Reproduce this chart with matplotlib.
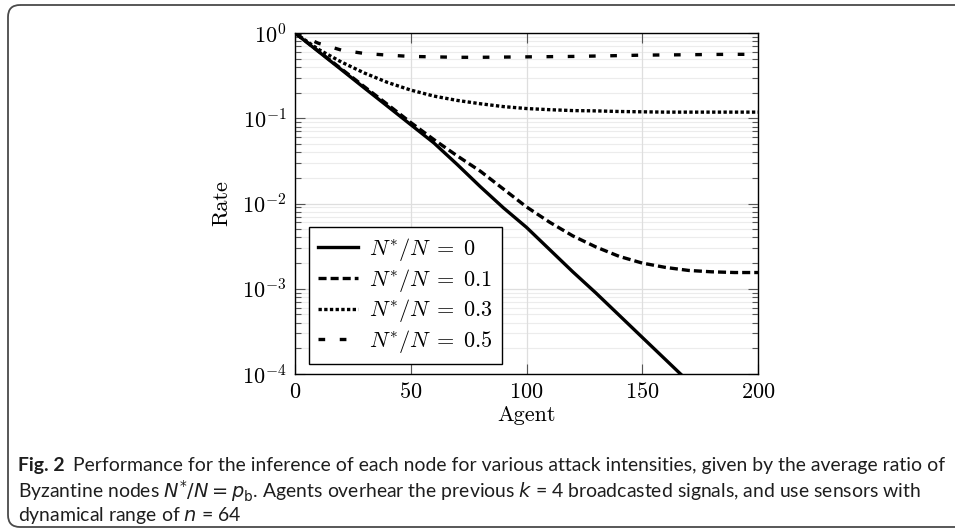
import numpy as np
import matplotlib
matplotlib.use('Agg')
import matplotlib.pyplot as plt
from matplotlib.patches import FancyBboxPatch

# curves (rate vs agent index)
agent_0 = [0, 10, 20, 30, 40, 50, 60, 70, 80, 90, 100, 110, 120, 130, 140, 150, 160, 170]
rate_0 = [1.0, 0.610, 0.372, 0.226, 0.138, 0.0841, 0.0513, 0.0288, 0.0158, 0.00891,
          0.00525, 0.00288, 0.00158, 0.000891, 0.00049, 0.000269, 0.000148, 0.0000813]

agent = [0, 10, 20, 30, 40, 50, 60, 70, 80, 90, 100, 110, 120, 130, 140, 150, 160, 170, 180, 190, 200]
rate_01 = [1.0, 0.617, 0.380, 0.234, 0.145, 0.0891, 0.0562, 0.0363, 0.0240, 0.0148,
           0.00912, 0.00603, 0.00417, 0.00309, 0.0024, 0.0020, 0.00178, 0.00164, 0.00158, 0.00155, 0.00155]
rate_03 = [1.0, 0.646, 0.457, 0.339, 0.263, 0.214, 0.182, 0.162, 0.148, 0.137,
           0.130, 0.126, 0.123, 0.122, 0.120, 0.119, 0.118, 0.118, 0.118, 0.118, 0.118]
rate_05 = [1.0, 0.76, 0.63, 0.575, 0.55, 0.531, 0.525, 0.519, 0.519, 0.522,
           0.525, 0.528, 0.531, 0.537, 0.543, 0.550, 0.553, 0.556, 0.560, 0.562, 0.562]

labels = [r'$N^{*}/N\;=\;0$', r'$N^{*}/N\;=\;0.1$', r'$N^{*}/N\;=\;0.3$', r'$N^{*}/N\;=\;0.5$']

caption_1 = 'Performance for the inference of each node for various attack intensities, given by the average ratio of'
caption_2 = r'Byzantine nodes $N^{*}/N = p_{\mathrm{b}}$. Agents overhear the previous $k$ = 4 broadcasted signals, and use sensors with'
caption_3 = r'dynamical range of $n$ = 64'

plt.rcParams.update({
    'font.family': 'serif',
    'font.serif': ['cmr10'],
    'mathtext.fontset': 'cm',
    'axes.formatter.use_mathtext': True,
    'font.size': 16,
    'lines.scale_dashes': False,
})

W, H = 955, 531
fig = plt.figure(figsize=(W / 100, H / 100), dpi=100, facecolor='white')

# outer frame of the figure box
bg = fig.add_axes([0, 0, 1, 1])
bg.set_xlim(0, W)
bg.set_ylim(H, 0)
bg.axis('off')
bg.add_patch(FancyBboxPatch((8, 5), 980, 522, boxstyle='round,pad=0,rounding_size=12',
                            fill=False, ec='#4a4a4a', lw=1.3))

ax = fig.add_axes([295 / W, 1 - 374 / H, 463 / W, 341 / H])
lw = 2.4
ax.plot(agent_0, rate_0, color='black', lw=lw, ls='-', label=labels[0])
ax.plot(agent, rate_01, color='black', lw=lw, ls=(0, (5.8, 2.9)), label=labels[1])
ax.plot(agent, rate_03, color='black', lw=lw, ls=(0, (2.4, 1.7)), label=labels[2])
ax.plot(agent, rate_05, color='black', lw=lw, ls=(0, (4.8, 10.5)), label=labels[3])

ax.set_yscale('log')
ax.set_xlim(0, 200)
ax.set_ylim(1e-4, 1)
ax.set_xticks([0, 50, 100, 150, 200])
ax.set_xticklabels([f'${v}$' for v in [0, 50, 100, 150, 200]])
ax.set_yticks([1e-4, 1e-3, 1e-2, 1e-1, 1])
ax.grid(which='major', color='#dedede', lw=0.9)
ax.grid(which='minor', axis='y', color='#ececec', lw=0.8)
ax.set_axisbelow(True)
ax.xaxis.set_zorder(0.7)
ax.tick_params(which='both', direction='in', top=True, right=True, width=0.8, color='#555555')
ax.tick_params(which='major', length=7, pad=6)
ax.tick_params(which='minor', length=4)
for sp in ax.spines.values():
    sp.set_linewidth(1.0)
ax.set_xlabel('Agent', labelpad=2)
ax.set_ylabel('Rate', labelpad=8)

ax.legend(loc='lower left', bbox_to_anchor=(14 / 463, 10 / 341), borderaxespad=0,
          frameon=True, fancybox=False, edgecolor='black', framealpha=1,
          handlelength=1.8, handletextpad=0.5, labelspacing=0.17, borderpad=0.4,
          fontsize=16).get_frame().set_linewidth(1.0)

# caption, sized so the first line spans the box like the reference
cap_font = ['Lato', 'DejaVu Sans']
cap_col = '#1e1e1e'
size = 12
fig.canvas.draw()
r = fig.canvas.get_renderer()
t = fig.text(18 / W, 1 - 466 / H, 'Fig. 2', fontsize=size, fontweight='bold',
             family=cap_font, va='center', color=cap_col)
t1 = fig.text(0, 1 - 466 / H, caption_1, fontsize=size, family=cap_font,
              va='center', color=cap_col)
w_fig = t.get_window_extent(r).width
w1 = t1.get_window_extent(r).width
size = size * (946 - 18) / (w_fig + 8 + w1)
t.set_fontsize(size)
t1.set_fontsize(size)
fig.canvas.draw()
bb = t.get_window_extent(r)
t1.set_x((bb.x1 + 8) / W)
fig.text(18 / W, 1 - 491 / H, caption_2, fontsize=size, family=cap_font,
         va='center', color=cap_col, math_fontfamily='dejavusans')
fig.text(18 / W, 1 - 515 / H, caption_3, fontsize=size, family=cap_font,
         va='center', color=cap_col, math_fontfamily='dejavusans')

fig.savefig('out.png', dpi=100)
